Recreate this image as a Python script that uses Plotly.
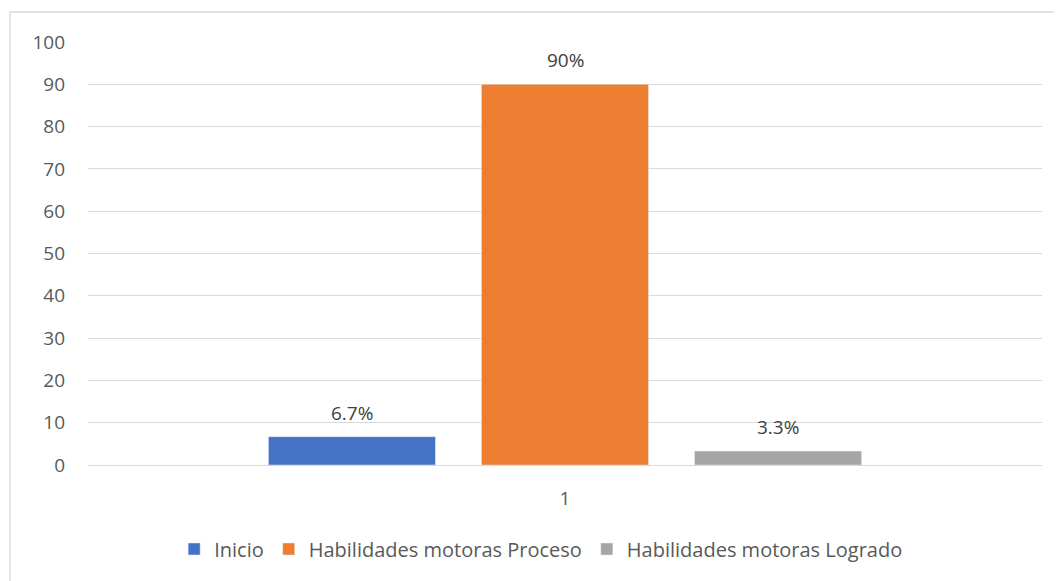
import plotly.graph_objects as go

categories = ["1"]
series_names = ["Inicio", "Habilidades motoras Proceso", "Habilidades motoras Logrado"]
series_values = [[6.7], [90], [3.3]]
series_labels = [["6.7%"], ["90%"], ["3.3%"]]
colors = ["#4472C4", "#ED7D31", "#A5A5A5"]

font_family = "Open Sans, Liberation Sans, sans-serif"
FS = 19

# page body has an 8px margin, so the figure is shifted by 8px
W, H = 1054, 573
ML, MR, MT, MB = 80, 20, 34, 116
plot_w = W - ML - MR
plot_h = H - MT - MB
bargap, bargroupgap = 0.33, 0.216
slot = plot_w * (1 - bargap) / len(series_names)

fig = go.Figure()
for name, vals, col in zip(series_names, series_values, colors):
    fig.add_trace(go.Bar(x=categories, y=vals, name=name, marker_color=col))

annotations = []
n = len(series_names)
for i, (vals, labels) in enumerate(zip(series_values, series_labels)):
    for ci, (v, t) in enumerate(zip(vals, labels)):
        annotations.append(dict(
            x=ci, y=v, xref="x", yref="y", text=t, showarrow=False,
            xshift=(i - (n - 1) / 2) * slot, yshift=24, yanchor="middle",
            font=dict(size=FS, color="#404040", family=font_family),
        ))

fig.update_layout(
    width=W, height=H,
    margin=dict(l=ML, r=MR, t=MT, b=MB),
    paper_bgcolor="white", plot_bgcolor="white",
    barmode="group", bargap=bargap, bargroupgap=bargroupgap,
    font=dict(family=font_family, size=FS, color="#595959"),
    showlegend=True,
    legend=dict(orientation="h", x=0.475, xanchor="center",
                y=-(549 - 465) / plot_h, yanchor="middle",
                font=dict(size=20, color="#595959"), traceorder="normal",
                itemwidth=30),
    xaxis=dict(type="category", range=[-0.5, len(categories) - 0.5],
               showgrid=False, showline=False, ticks="",
               tickfont=dict(size=FS, color="#595959"), ticklabelstandoff=20),
    yaxis=dict(range=[0, 100], dtick=10, showgrid=True, gridcolor="#D9D9D9", gridwidth=1.3,
               zeroline=True, zerolinecolor="#D9D9D9", zerolinewidth=1.3,
               showline=False, ticks="", ticklabelstandoff=22,
               tickfont=dict(size=FS, color="#595959")),
    annotations=annotations,
    shapes=[dict(type="rect", xref="paper", yref="paper",
                 x0=(10 - 88) / plot_w, x1=(1059 - 88) / plot_w,
                 y0=(465 - 590) / plot_h, y1=(465 - 12) / plot_h,
                 line=dict(color="#D9D9D9", width=1.3), fillcolor="rgba(0,0,0,0)",
                 layer="below")],
)

fig.write_html("out.html")
